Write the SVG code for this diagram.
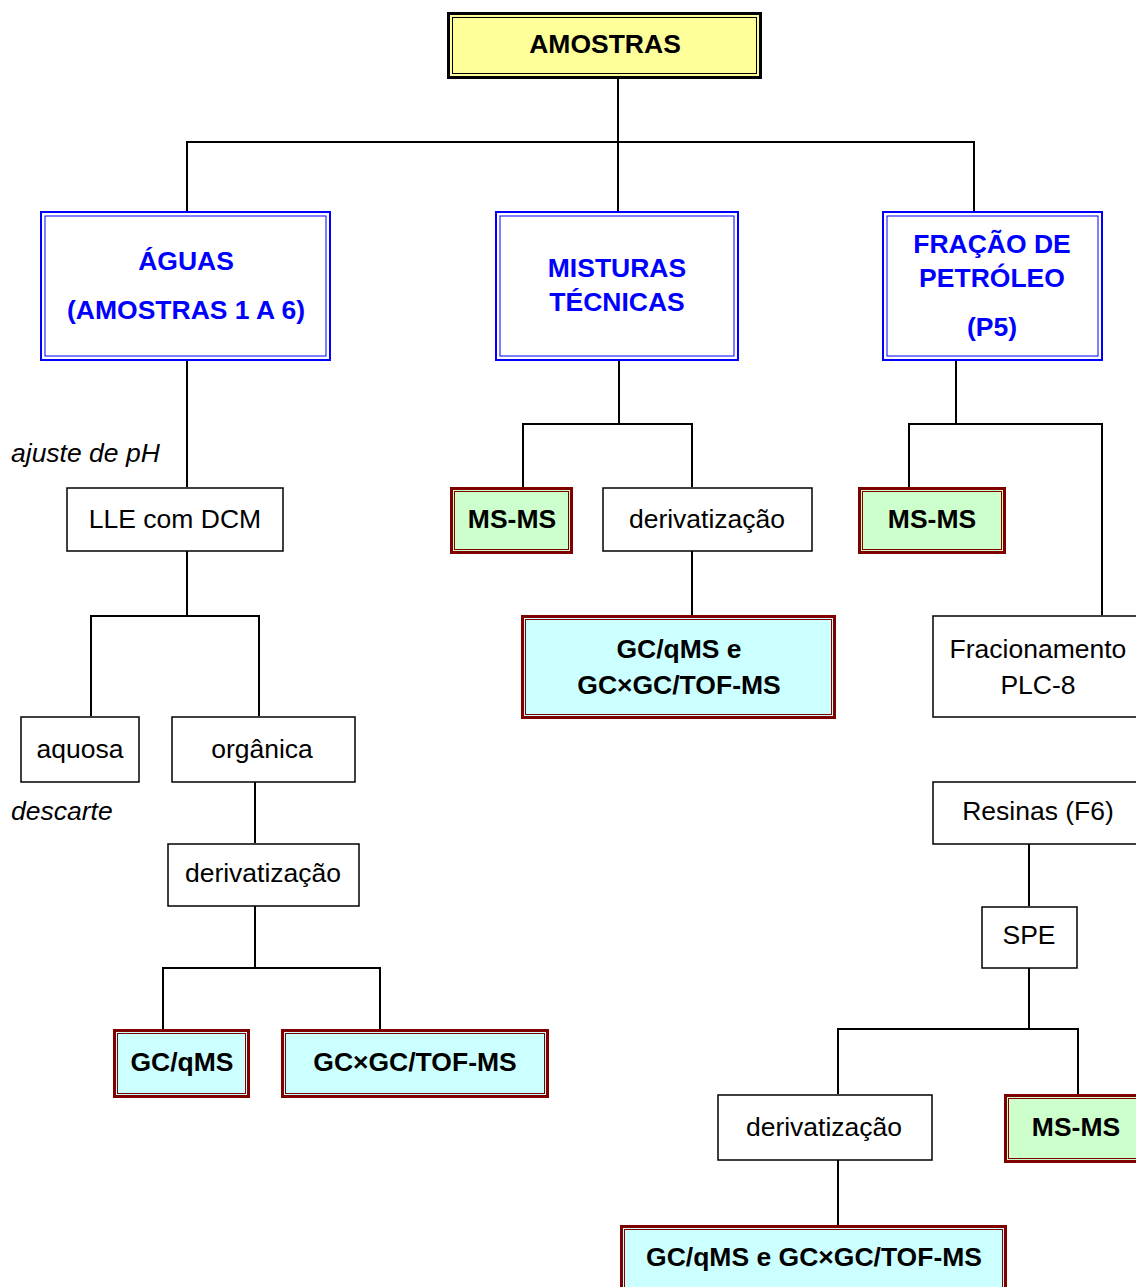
<svg xmlns="http://www.w3.org/2000/svg" width="1136" height="1287" viewBox="0 0 1136 1287">
<style>
text{font-family:"Liberation Sans",Arial,sans-serif;font-size:26.5px;text-anchor:middle;fill:#000}
.b{font-weight:bold}
.blue{fill:#0000FF;font-weight:bold}
.it{font-style:italic;text-anchor:start}
.plain{fill:#fff;stroke:#000;stroke-width:1.5}
.yo{fill:#FFFF99;stroke:#000;stroke-width:3}
.yi{fill:none;stroke:#000;stroke-width:1}
.bo{fill:#fff;stroke:#0000FF;stroke-width:2}
.bi{fill:none;stroke:#0000FF;stroke-width:1}
.go{fill:#CCFFCC;stroke:#800000;stroke-width:3}
.co{fill:#CCFFFF;stroke:#800000;stroke-width:3}
.ri{fill:none;stroke:#800000;stroke-width:1}
.conn path{fill:none;stroke:#000;stroke-width:2}
</style>
<rect width="1136" height="1287" fill="#fff"/>
<g id="connectors" class="conn">
<path d="M618,79 V142"/>
<path d="M187,211 V142 H974 V211"/>
<path d="M618,142 V211"/>
<path d="M187,361 V487"/>
<path d="M187,551 V616"/>
<path d="M91,716 V616 H259 V716"/>
<path d="M255,782 V843"/>
<path d="M255,906 V968"/>
<path d="M163,1029 V968 H380 V1029"/>
<path d="M619,361 V424"/>
<path d="M523,487 V424 H692 V487"/>
<path d="M692,551 V615"/>
<path d="M956,361 V424"/>
<path d="M909,487 V424 H1102 V615"/>
<path d="M1029,844 V906"/>
<path d="M1029,968 V1029"/>
<path d="M838,1094 V1029 H1078 V1094"/>
<path d="M838,1160 V1225"/>
</g>
<g id="amostras">
<rect class="yo" x="448.5" y="13.5" width="312" height="64"/>
<rect class="yi" x="452.5" y="17.5" width="304" height="56"/>
<text class="b" x="605" y="53">AMOSTRAS</text>
</g>
<g id="aguas">
<rect class="bo" x="41" y="212" width="289" height="148"/>
<rect class="bi" x="45" y="216" width="281" height="140"/>
<text class="blue" x="186" y="269.5">ÁGUAS</text>
<text class="blue" x="186" y="318.5">(AMOSTRAS 1 A 6)</text>
</g>
<g id="misturas">
<rect class="bo" x="496" y="212" width="242" height="148"/>
<rect class="bi" x="500" y="216" width="234" height="140"/>
<text class="blue" x="617" y="276.5">MISTURAS</text>
<text class="blue" x="617" y="310.5">TÉCNICAS</text>
</g>
<g id="fracao">
<rect class="bo" x="883" y="212" width="219" height="148"/>
<rect class="bi" x="887" y="216" width="211" height="140"/>
<text class="blue" x="992" y="252.5">FRAÇÃO DE</text>
<text class="blue" x="992" y="286.5">PETRÓLEO</text>
<text class="blue" x="992" y="335.5">(P5)</text>
</g>
<text class="it" x="11" y="462">ajuste de pH</text>
<g id="lle">
<rect class="plain" x="67" y="488" width="216" height="63"/>
<text x="175" y="528">LLE com DCM</text>
</g>
<g id="msms1">
<rect class="go" x="451.5" y="488.5" width="120" height="64"/>
<rect class="ri" x="454.5" y="491.5" width="114" height="58"/>
<text class="b" x="512" y="527.5">MS-MS</text>
</g>
<g id="deriv1">
<rect class="plain" x="603" y="488" width="209" height="63"/>
<text x="707" y="528">derivatização</text>
</g>
<g id="msms2">
<rect class="go" x="859.5" y="488.5" width="145" height="64"/>
<rect class="ri" x="862.5" y="491.5" width="139" height="58"/>
<text class="b" x="932" y="527.5">MS-MS</text>
</g>
<g id="gc1">
<rect class="co" x="522.5" y="616.5" width="312" height="101"/>
<rect class="ri" x="525.5" y="619.5" width="306" height="95"/>
<text class="b" x="679" y="657.5">GC/qMS e</text>
<text class="b" x="679" y="693.5">GC×GC/TOF-MS</text>
</g>
<g id="fracionamento">
<rect class="plain" x="933" y="616" width="210" height="101"/>
<text x="1038" y="657.5">Fracionamento</text>
<text x="1038" y="693.5">PLC-8</text>
</g>
<g id="aquosa">
<rect class="plain" x="21" y="717" width="118" height="65"/>
<text x="80" y="758">aquosa</text>
</g>
<g id="organica">
<rect class="plain" x="172" y="717" width="183" height="65"/>
<text x="262" y="758">orgânica</text>
</g>
<text class="it" x="11" y="820">descarte</text>
<g id="deriv2">
<rect class="plain" x="168" y="844" width="191" height="62"/>
<text x="263" y="882">derivatização</text>
</g>
<g id="gcqms">
<rect class="co" x="114.5" y="1030.5" width="134" height="66"/>
<rect class="ri" x="117.5" y="1033.5" width="128" height="60"/>
<text class="b" x="182" y="1071">GC/qMS</text>
</g>
<g id="gcxgc">
<rect class="co" x="282.5" y="1030.5" width="265" height="66"/>
<rect class="ri" x="285.5" y="1033.5" width="259" height="60"/>
<text class="b" x="415" y="1071">GC×GC/TOF-MS</text>
</g>
<g id="resinas">
<rect class="plain" x="933" y="782" width="210" height="62"/>
<text x="1038" y="820">Resinas (F6)</text>
</g>
<g id="spe">
<rect class="plain" x="982" y="907" width="95" height="61"/>
<text x="1029" y="944">SPE</text>
</g>
<g id="deriv3">
<rect class="plain" x="718" y="1095" width="214" height="65"/>
<text x="824" y="1136">derivatização</text>
</g>
<g id="msms3">
<rect class="go" x="1005.5" y="1095.5" width="140" height="66"/>
<rect class="ri" x="1008.5" y="1098.5" width="134" height="60"/>
<text class="b" x="1076" y="1136">MS-MS</text>
</g>
<g id="gc2">
<rect class="co" x="621.5" y="1226.5" width="384" height="70"/>
<rect class="ri" x="624.5" y="1229.5" width="378" height="64"/>
<text class="b" x="814" y="1266">GC/qMS e GC×GC/TOF-MS</text>
</g>
</svg>
